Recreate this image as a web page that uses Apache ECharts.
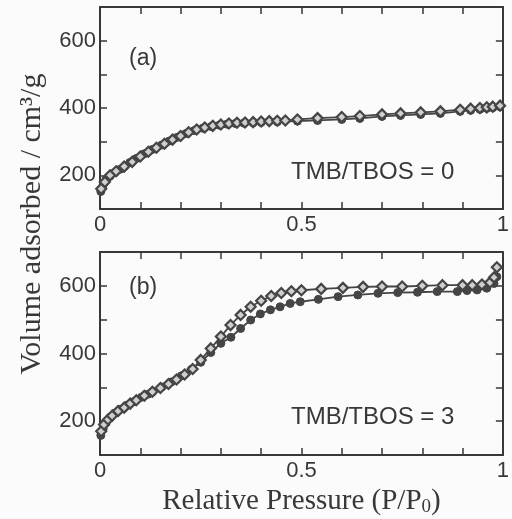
<!DOCTYPE html>
<html>
<head>
<meta charset="utf-8">
<script src="https://cdn.jsdelivr.net/npm/echarts@6/dist/echarts.min.js"></script>
<style>
  html, body { margin: 0; padding: 0; background: #fbfbfb; }
  #chart { width: 512px; height: 519px; }
</style>
</head>
<body>
<div id="chart"></div>
<script>
// panel (a): TMB/TBOS = 0
const adsAX = [0.002, 0.008, 0.015, 0.025, 0.037, 0.05, 0.062, 0.074, 0.09, 0.11, 0.13, 0.153, 0.172, 0.192, 0.213, 0.234, 0.255, 0.276, 0.296, 0.315, 0.336, 0.357, 0.38, 0.40, 0.44, 0.49, 0.54, 0.60, 0.645, 0.70, 0.746, 0.796, 0.845, 0.894, 0.92, 0.943, 0.96, 0.975, 0.993];
const adsAY = [152, 172, 188, 198, 208, 218, 228, 238, 250, 264, 277, 290, 302, 313, 324, 333, 340, 345, 349, 352, 354, 355, 356, 357, 359, 361, 363, 366, 369, 375, 378, 381, 384, 390, 393, 396, 399, 401, 404];
const desAX = [0.003, 0.012, 0.025, 0.04, 0.06, 0.08, 0.1, 0.12, 0.14, 0.16, 0.18, 0.2, 0.22, 0.24, 0.26, 0.28, 0.3, 0.32, 0.34, 0.36, 0.38, 0.40, 0.42, 0.44, 0.46, 0.49, 0.54, 0.60, 0.645, 0.70, 0.746, 0.796, 0.845, 0.894, 0.92, 0.943, 0.96, 0.975, 0.993];
const desAY = [160, 180, 200, 212, 226, 240, 256, 270, 282, 294, 306, 317, 328, 336, 342, 347, 351, 354, 356, 357, 358, 360, 361, 362, 363, 366, 370, 373, 376, 381, 384, 387, 390, 395, 398, 400, 402, 404, 407];

// panel (b): TMB/TBOS = 3
const adsBX = [0.002, 0.008, 0.015, 0.025, 0.037, 0.05, 0.069, 0.085, 0.103, 0.12, 0.13, 0.153, 0.177, 0.202, 0.227, 0.25, 0.275, 0.30, 0.325, 0.349, 0.374, 0.398, 0.423, 0.447, 0.472, 0.497, 0.542, 0.591, 0.64, 0.69, 0.739, 0.788, 0.837, 0.887, 0.911, 0.936, 0.96, 0.978, 0.985];
const adsBY = [158, 178, 195, 210, 224, 235, 248, 258, 271, 280, 286, 301, 316, 334, 353, 374, 403, 430, 448, 474, 499, 517, 529, 538, 548, 553, 560, 568, 573, 578, 580, 581, 583, 583, 586, 588, 593, 607, 627];
const desBX = [0.003, 0.01, 0.02, 0.03, 0.045, 0.06, 0.075, 0.09, 0.11, 0.13, 0.15, 0.17, 0.19, 0.21, 0.23, 0.25, 0.275, 0.30, 0.324, 0.349, 0.374, 0.40, 0.425, 0.45, 0.475, 0.50, 0.549, 0.603, 0.653, 0.70, 0.75, 0.80, 0.85, 0.90, 0.924, 0.948, 0.968, 0.978, 0.985];
const desBY = [170, 190, 205, 216, 230, 240, 252, 262, 275, 287, 298, 310, 323, 338, 354, 381, 415, 450, 484, 514, 538, 556, 570, 579, 584, 587, 591, 594, 597, 598, 598, 600, 602, 602, 602, 604, 610, 625, 655];

const xLabels = { 0: '0', 5: '0.5', 10: '1' };
const yLabels = [200, 400, 600];

const ink = '#383838';
const mark = '#454545';
const sans = 'Liberation Sans, Arial, sans-serif';
const serif = 'Liberation Serif, Times New Roman, serif';

const pairs = (xs, ys) => xs.map((x, i) => [x, ys[i]]);

function xAxisFor(grid, pos, showLabel) {
  return {
    type: 'value', gridIndex: grid, position: pos,
    min: 0, max: 1, interval: 0.1,
    axisLine: { show: true, onZero: false, lineStyle: { color: ink, width: 2 } },
    axisTick: { show: true, inside: true, length: 7, lineStyle: { color: ink, width: 1.5 } },
    axisLabel: {
      show: showLabel, margin: 5, color: ink, fontFamily: sans, fontSize: 22,
      formatter: v => xLabels[Math.round(v * 10)] || ''
    },
    splitLine: { show: false }
  };
}

function yAxisFor(grid, pos, showLabel) {
  return {
    type: 'value', gridIndex: grid, position: pos,
    min: 100, max: 700, interval: 100,
    axisLine: { show: true, onZero: false, lineStyle: { color: ink, width: 2 } },
    axisTick: { show: true, inside: true, length: 7, lineStyle: { color: ink, width: 1.5 } },
    axisLabel: {
      show: showLabel, margin: 4, color: ink, fontFamily: sans, fontSize: 22,
      formatter: v => yLabels.includes(v) ? String(v) : ''
    },
    splitLine: { show: false }
  };
}

function branch(data, xi, yi, kind) {
  const open = kind === 'des';
  return {
    type: 'line', data: data, xAxisIndex: xi, yAxisIndex: yi,
    symbol: open ? 'diamond' : 'circle',
    symbolSize: open ? 10 : 8,
    showAllSymbol: true,
    lineStyle: { color: mark, width: 1.8 },
    itemStyle: open
      ? { color: '#cfcfcf', borderColor: mark, borderWidth: 2.2 }
      : { color: mark, borderColor: mark, borderWidth: 1 },
    z: open ? 3 : 2,
    animation: false
  };
}

const chart = echarts.init(document.getElementById('chart'));
chart.setOption({
  backgroundColor: '#fbfbfb',
  animation: false,
  grid: [
    { left: 100, right: 6, top: 7, height: 202 },
    { left: 100, right: 6, top: 252, height: 203 }
  ],
  xAxis: [
    xAxisFor(0, 'bottom', true),
    xAxisFor(0, 'top', false),
    Object.assign(xAxisFor(1, 'bottom', true), {
      name: '{a|Relative Pressure (P/P}{s|0}{a|)}',
      nameLocation: 'middle', nameGap: 29,
      nameTextStyle: {
        rich: {
          a: { fontFamily: serif, fontSize: 29, color: ink, lineHeight: 34 },
          s: { fontFamily: serif, fontSize: 19, color: ink, padding: [12, 0, 0, 0] }
        }
      }
    }),
    xAxisFor(1, 'top', false)
  ],
  yAxis: [
    yAxisFor(0, 'left', true),
    yAxisFor(0, 'right', false),
    yAxisFor(1, 'left', true),
    yAxisFor(1, 'right', false)
  ],
  graphic: [
    {
      type: 'text', x: 32, y: 224, rotation: Math.PI / 2,
      style: {
        text: 'Volume adsorbed / cm³/g', fill: ink,
        font: '30px ' + serif, align: 'center', verticalAlign: 'middle'
      }
    },
    { type: 'text', left: 129, top: 47, style: { text: '(a)', fill: ink, font: '23px ' + sans } },
    { type: 'text', left: 129, top: 276, style: { text: '(b)', fill: ink, font: '23px ' + sans } },
    { type: 'text', left: 291, top: 160, style: { text: 'TMB/TBOS = 0', fill: ink, font: '24px ' + sans } },
    { type: 'text', left: 291, top: 405, style: { text: 'TMB/TBOS = 3', fill: ink, font: '24px ' + sans } }
  ],
  series: [
    branch(pairs(adsAX, adsAY), 0, 0, 'ads'),
    branch(pairs(desAX, desAY), 0, 0, 'des'),
    branch(pairs(adsBX, adsBY), 2, 2, 'ads'),
    branch(pairs(desBX, desBY), 2, 2, 'des')
  ]
});
</script>
</body>
</html>
